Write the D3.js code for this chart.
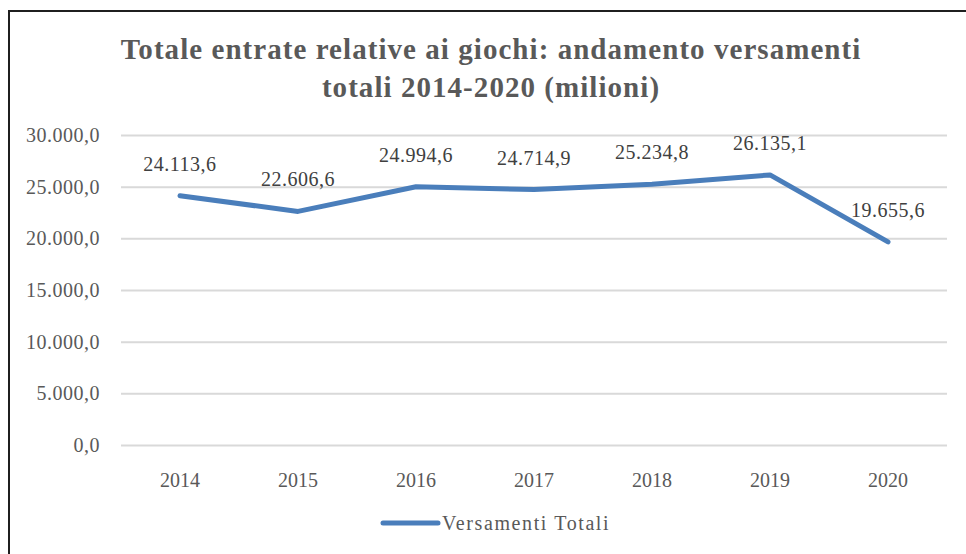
<!DOCTYPE html>
<html>
<head>
<meta charset="utf-8">
<script src="https://cdn.jsdelivr.net/npm/d3@7"></script>
<style>
  html, body { margin: 0; padding: 0; background: #fff; }
  svg { display: block; font-family: "Liberation Serif", "Times New Roman", serif; }
</style>
</head>
<body>
<div id="chart"></div>
<script>
// Chart data
var years = ["2014", "2015", "2016", "2017", "2018", "2019", "2020"];
var versamenti = [24113.6, 22606.6, 24994.6, 24714.9, 25234.8, 26135.1, 19655.6];
var yTicks = [0, 5000, 10000, 15000, 20000, 25000, 30000];
var titleLines = ["Totale entrate relative ai giochi: andamento versamenti", "totali 2014-2020 (milioni)"];
var seriesName = "Versamenti Totali";

(function() {

    var width = 966, height = 554;
    var plot = {left: 121, right: 947, top: 135, bottom: 445};

    // Italian number format: 24.113,6
    var fmt = d3.formatLocale({decimal: ",", thousands: ".", grouping: [3], currency: ["€", ""]})
                .format(",.1f");

    var svg = d3.select("#chart").append("svg")
        .attr("width", width)
        .attr("height", height);

    // Outer frame (open on the right and bottom, cropped)
    svg.append("path")
        .attr("d", "M9,560 V11 H970")
        .attr("fill", "none")
        .attr("stroke", "#1f1f1f")
        .attr("stroke-width", 2);

    // Title
    svg.append("text")
        .attr("x", 491)
        .attr("y", 59)
        .attr("text-anchor", "middle")
        .attr("font-size", 29)
        .attr("font-weight", "bold")
        .attr("letter-spacing", 1.05)
        .attr("fill", "#595959")
        .selectAll("tspan")
        .data(titleLines)
        .enter().append("tspan")
            .attr("x", 491)
            .attr("dy", function(d, i) { return i === 0 ? 0 : 38; })
            .text(function(d) { return d; });

    // Scales
    var x = d3.scaleBand().domain(years).range([plot.left, plot.right]);
    var y = d3.scaleLinear().domain([0, 30000]).range([plot.bottom, plot.top]);

    // Gridlines + y labels
    var yAxis = d3.axisLeft(y)
        .tickValues(yTicks)
        .tickSize(-(plot.right - plot.left))
        .tickPadding(21)
        .tickFormat(fmt);

    var gy = svg.append("g")
        .attr("transform", "translate(" + plot.left + ",0)")
        .call(yAxis);
    gy.select(".domain").remove();
    gy.selectAll(".tick line")
        .attr("stroke", "#d9d9d9")
        .attr("stroke-width", 2);
    gy.selectAll(".tick text")
        .attr("font-family", "Liberation Serif, serif")
        .attr("font-size", 20)
        .attr("letter-spacing", 0.5)
        .attr("fill", "#595959");

    // X labels
    var xAxis = d3.axisBottom(x).tickSize(0).tickPadding(28);
    var gx = svg.append("g")
        .attr("transform", "translate(0," + plot.bottom + ")")
        .call(xAxis);
    gx.select(".domain").remove();
    gx.selectAll(".tick text")
        .attr("font-family", "Liberation Serif, serif")
        .attr("font-size", 20)
        .attr("fill", "#595959");

    // Line
    var line = d3.line()
        .x(function(d, i) { return x(years[i]) + x.bandwidth() / 2; })
        .y(function(d) { return y(d); });

    svg.append("path")
        .attr("d", line(versamenti))
        .attr("fill", "none")
        .attr("stroke", "#4a7ebb")
        .attr("stroke-width", 5)
        .attr("stroke-linecap", "round")
        .attr("stroke-linejoin", "round");

    // Data labels
    svg.append("g").selectAll("text")
        .data(versamenti)
        .enter().append("text")
            .attr("x", function(d, i) { return x(years[i]) + x.bandwidth() / 2; })
            .attr("y", function(d) { return y(d) - 25; })
            .attr("text-anchor", "middle")
            .attr("font-size", 20)
            .attr("letter-spacing", 0.5)
            .attr("fill", "#404040")
            .text(function(d) { return fmt(d); });

    // Legend
    var lg = svg.append("g").attr("transform", "translate(383,523)");
    lg.append("line")
        .attr("x1", 0).attr("x2", 55)
        .attr("stroke", "#4a7ebb")
        .attr("stroke-width", 5)
        .attr("stroke-linecap", "round");
    lg.append("text")
        .attr("x", 59)
        .attr("y", 7)
        .attr("font-size", 20)
        .attr("letter-spacing", 1.6)
        .attr("fill", "#595959")
        .text(seriesName);

})();
</script>
</body>
</html>
